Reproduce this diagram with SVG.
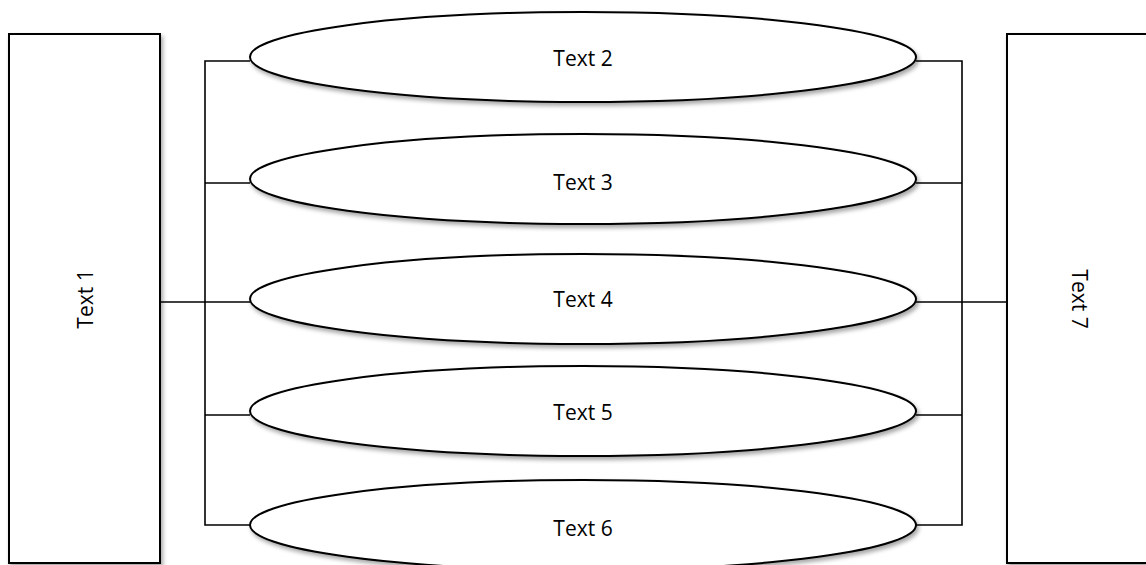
<svg xmlns="http://www.w3.org/2000/svg" width="1146" height="565" viewBox="0 0 1146 565">
<defs>
<filter id="sh" x="-10%" y="-20%" width="120%" height="150%">
<feDropShadow dx="2" dy="3" stdDeviation="2" flood-color="#000" flood-opacity="0.35"/>
</filter>
</defs>
<style>
.n{fill:#fff;stroke:#000;stroke-width:2;filter:url(#sh)}
.c{fill:none;stroke:#000;stroke-width:1.6}
.t{font-family:"Open Sans","Liberation Sans",sans-serif;font-size:21px;fill:#000;text-anchor:middle;dominant-baseline:central}
</style>
<g id="connectors">
<polyline class="c" points="250,61 205,61 205,525 250,525"/>
<line class="c" x1="205" y1="183" x2="250" y2="183"/>
<line class="c" x1="160" y1="302" x2="250" y2="302"/>
<line class="c" x1="205" y1="415" x2="250" y2="415"/>
<polyline class="c" points="916,61 962,61 962,525 916,525"/>
<line class="c" x1="916" y1="183" x2="962" y2="183"/>
<line class="c" x1="916" y1="302" x2="1007" y2="302"/>
<line class="c" x1="916" y1="415" x2="962" y2="415"/>
</g>
<g id="n1"><rect class="n" x="9" y="34" width="151" height="529"/><text class="t" transform="translate(85,299) rotate(-90)">Text 1</text></g>
<g id="n2"><ellipse class="n" cx="583" cy="57" rx="333" ry="45"/><text class="t" x="583" y="58">Text 2</text></g>
<g id="n3"><ellipse class="n" cx="583" cy="179" rx="333" ry="45"/><text class="t" x="583" y="182">Text 3</text></g>
<g id="n4"><ellipse class="n" cx="583" cy="299" rx="333" ry="45"/><text class="t" x="583" y="299">Text 4</text></g>
<g id="n5"><ellipse class="n" cx="583" cy="411" rx="333" ry="45"/><text class="t" x="583" y="412">Text 5</text></g>
<g id="n6"><ellipse class="n" cx="583" cy="525" rx="333" ry="45"/><text class="t" x="583" y="528">Text 6</text></g>
<g id="n7"><rect class="n" x="1007" y="34" width="151" height="529"/><text class="t" transform="translate(1080,299) rotate(90)">Text 7</text></g>
</svg>
